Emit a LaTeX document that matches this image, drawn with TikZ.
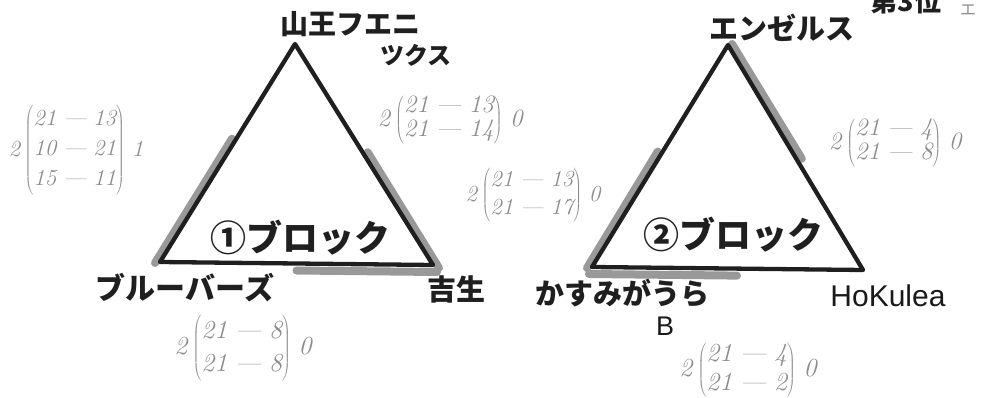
\documentclass[tikz,border=0pt]{standalone}
\usepackage{fontspec}
\newfontfamily\jp{Noto Sans CJK JP}
\newfontfamily\lat{Liberation Sans}
\usetikzlibrary{calc}
\newcommand\hwscore[3]{#1\hspace{0.2em}$\left(\begin{tabular}{@{}c@{}}#2\end{tabular}\right)$\hspace{0.3em}#3}
\newcommand\hwrow[2]{#1\hspace{0.3em}---\hspace{0.3em}#2}
\begin{document}
\begin{tikzpicture}[x=1pt,y=-1pt,
  tri/.style={line width=4.3pt, draw=black!88, line join=round},
  hl/.style={line width=8pt, draw=black!40, line cap=round},
  jlab/.style={font=\jp\bfseries\fontsize{#1}{#1}\selectfont, inner sep=0pt, text=black!88},
  llab/.style={font=\lat\fontsize{#1}{#1}\selectfont, inner sep=0pt, text=black!90},
  score/.style={text=black!45, inner sep=0pt}]
\useasboundingbox (0,0) rectangle (989,398);
\clip (0,0) rectangle (989,398);
% block 1
\coordinate (A1) at (295,44);
\coordinate (L1) at (160,262);
\coordinate (R1) at (433,265);
\draw[hl] ($(A1)!0.43!(L1)+(-5,1)$) -- ($(L1)+(-5,1)$);
\draw[hl] ($(A1)!0.49!(R1)+(5,0)$) -- ($(R1)+(6,3)$);
\draw[hl] ($(L1)!0.50!(R1)+(0,7)$) -- ($(R1)+(4,7)$);
\draw[tri] (A1) -- (L1) -- (R1) -- cycle;
% block 2
\coordinate (A2) at (728,45);
\coordinate (L2) at (592,267);
\coordinate (R2) at (863,270);
\draw[hl] ($(A2)+(4,-1)$) -- ($(A2)!0.51!(R2)+(5,-1)$);
\draw[hl] ($(A2)!0.48!(L2)+(-5,0)$) -- ($(L2)+(-5,1)$);
\draw[hl] ($(L2)+(-3,7)$) -- ($(L2)!0.535!(R2)+(0,7)$);
\draw[tri] (A2) -- (L2) -- (R2) -- cycle;
% labels
\node[jlab=28] (sanno) at (350,24) {山王フエニ};
\node[jlab=24] (sanno2) at (416,55) {ツクス};
\node[jlab=36] (blk1) at (300,238) {①ブロック};
\node[jlab=30] (blue) at (185,288) {ブルーバーズ};
\node[jlab=29] (yoshi) at (456,289) {吉生};
\node[jlab=29] (angels) at (782,28) {エンゼルス};
\node[jlab=36] (blk2) at (733,235) {②ブロック};
\node[jlab=29] (kasumi) at (622,293) {かすみがうら};
\node[llab=27] (kasumiB) at (665,326) {B};
\node[llab=30] (hoku) at (888,296) {HoKulea};
\node[jlab=27] (third) at (906,1) {第3位};
\node[text=black!45, inner sep=0pt, font=\jp\fontsize{16}{16}\selectfont] (thirdhw) at (968,10) {エ};
% handwritten scores
\node[score, font=\fontsize{23}{30}\selectfont\itshape] (s1) at (76,150) {\hwscore{2}{\hwrow{21}{13}\\\hwrow{10}{21}\\\hwrow{15}{11}}{1}};
\node[score, font=\fontsize{25}{24}\selectfont\itshape] (s2) at (450,120) {\hwscore{2}{\hwrow{21}{13}\\\hwrow{21}{14}}{0}};
\node[score, font=\fontsize{23}{28}\selectfont\itshape] (s3) at (533,195) {\hwscore{2}{\hwrow{21}{13}\\\hwrow{21}{17}}{0}};
\node[score, font=\fontsize{25}{24}\selectfont\itshape] (s4) at (895,143) {\hwscore{2}{\hwrow{21}{4}\\\hwrow{21}{8}}{0}};
\node[score, font=\fontsize{26}{33}\selectfont\itshape] (s5) at (243,348) {\hwscore{2}{\hwrow{21}{8}\\\hwrow{21}{8}}{0}};
\node[score, font=\fontsize{26}{29}\selectfont\itshape] (s6) at (748,370) {\hwscore{2}{\hwrow{21}{4}\\\hwrow{21}{2}}{0}};
\end{tikzpicture}
\end{document}
